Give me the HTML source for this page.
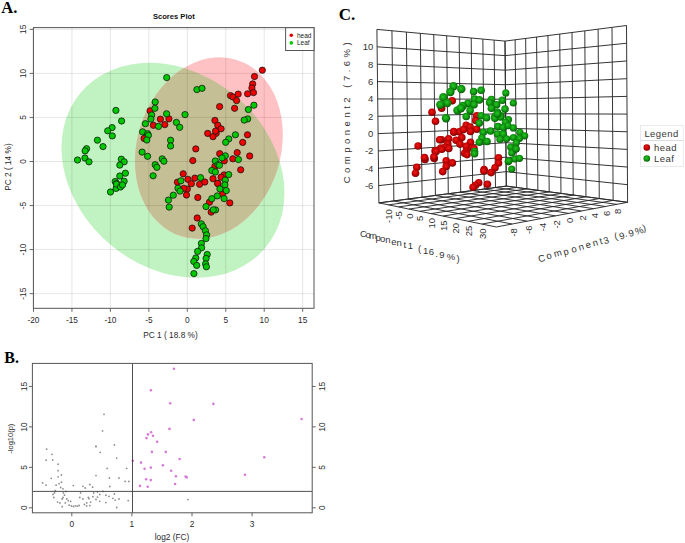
<!DOCTYPE html>
<html><head><meta charset="utf-8"><style>
html,body{margin:0;padding:0;background:#fff;}
svg{display:block;}
text{font-family:"Liberation Sans",sans-serif;}
.g{stroke:rgba(0,0,0,0.11);stroke-width:0.9;}
.box{fill:none;stroke:#555;stroke-width:1;}
.tk{stroke:#555;stroke-width:0.9;}
.bl{stroke:#3c3c3c;stroke-width:0.9;}
.tl{font-size:8.3px;fill:#2a2a2a;}
.tls{font-family:"Liberation Serif",serif;font-size:8.6px;fill:#333;}
.ttl{font-size:7.6px;font-weight:bold;fill:#111;}
.lg{font-size:6.5px;fill:#222;}
.pl{font-family:"Liberation Serif",serif;font-weight:bold;font-size:16px;fill:#000;}
.pr{fill:#ee0000;stroke:#111;stroke-width:0.75;}
.pg{fill:#00c800;stroke:#111;stroke-width:0.75;}
.c3{fill:none;stroke:#2a2a2a;stroke-width:0.95;}
.c3t{font-size:9.5px;fill:#333;}
.c3a{font-size:9.5px;fill:#333;}
.c3a2{font-size:9.5px;fill:#333;}
.c3l{font-size:9.5px;fill:#383838;letter-spacing:0.45px;}
</style></head><body>
<svg width="685" height="543" viewBox="0 0 685 543">
<defs>
<radialGradient id="rb" cx="0.45" cy="0.42" r="0.6"><stop offset="0" stop-color="#ee1a1a"/><stop offset="0.45" stop-color="#d00606"/><stop offset="0.8" stop-color="#a00000"/><stop offset="1" stop-color="#640000"/></radialGradient>
<radialGradient id="gb" cx="0.45" cy="0.42" r="0.6"><stop offset="0" stop-color="#26c426"/><stop offset="0.45" stop-color="#14a214"/><stop offset="0.8" stop-color="#087808"/><stop offset="1" stop-color="#034803"/></radialGradient>
</defs>
<clipPath id="gclip"><ellipse cx="172.95" cy="170.3" rx="120.6" ry="97.15" transform="rotate(40 172.95 170.3)"/></clipPath>
<ellipse cx="172.95" cy="170.3" rx="120.6" ry="97.15" transform="rotate(40 172.95 170.3)" fill="rgb(193,242,193)"/>
<ellipse cx="208.9" cy="148.0" rx="71.8" ry="92.4" transform="rotate(17.6 208.9 148.0)" fill="rgb(255,194,196)"/>
<g clip-path="url(#gclip)"><ellipse cx="208.9" cy="148.0" rx="71.8" ry="92.4" transform="rotate(17.6 208.9 148.0)" fill="rgb(197,191,149)"/></g>
<line x1="33.48" y1="27.6" x2="33.48" y2="308.3" class="g"/>
<line x1="71.94" y1="27.6" x2="71.94" y2="308.3" class="g"/>
<line x1="110.39" y1="27.6" x2="110.39" y2="308.3" class="g"/>
<line x1="148.85" y1="27.6" x2="148.85" y2="308.3" class="g"/>
<line x1="187.3" y1="27.6" x2="187.3" y2="308.3" class="g"/>
<line x1="225.75" y1="27.6" x2="225.75" y2="308.3" class="g"/>
<line x1="264.21" y1="27.6" x2="264.21" y2="308.3" class="g"/>
<line x1="302.67" y1="27.6" x2="302.67" y2="308.3" class="g"/>
<line x1="33.4" y1="293.65" x2="314.0" y2="293.65" class="g"/>
<line x1="33.4" y1="249.6" x2="314.0" y2="249.6" class="g"/>
<line x1="33.4" y1="205.55" x2="314.0" y2="205.55" class="g"/>
<line x1="33.4" y1="161.5" x2="314.0" y2="161.5" class="g"/>
<line x1="33.4" y1="117.45" x2="314.0" y2="117.45" class="g"/>
<line x1="33.4" y1="73.4" x2="314.0" y2="73.4" class="g"/>
<line x1="33.4" y1="29.35" x2="314.0" y2="29.35" class="g"/>
<circle cx="150.1" cy="110.8" r="3.15" class="pr"/>
<circle cx="153.4" cy="125.3" r="3.15" class="pr"/>
<circle cx="160.4" cy="119.2" r="3.15" class="pr"/>
<circle cx="168.9" cy="118.8" r="3.15" class="pr"/>
<circle cx="164.8" cy="124.6" r="3.15" class="pr"/>
<circle cx="219.6" cy="106.6" r="3.15" class="pr"/>
<circle cx="214.9" cy="120.4" r="3.15" class="pr"/>
<circle cx="217.8" cy="125.2" r="3.15" class="pr"/>
<circle cx="221.1" cy="128.8" r="3.15" class="pr"/>
<circle cx="230.5" cy="95.6" r="3.15" class="pr"/>
<circle cx="233.0" cy="97.0" r="3.15" class="pr"/>
<circle cx="238.2" cy="94.1" r="3.15" class="pr"/>
<circle cx="236.6" cy="100.6" r="3.15" class="pr"/>
<circle cx="234.6" cy="108.3" r="3.15" class="pr"/>
<circle cx="262.3" cy="70.2" r="3.15" class="pr"/>
<circle cx="254.5" cy="76.5" r="3.15" class="pr"/>
<circle cx="252.7" cy="83.9" r="3.15" class="pr"/>
<circle cx="251.9" cy="88.0" r="3.15" class="pr"/>
<circle cx="253.5" cy="92.6" r="3.15" class="pr"/>
<circle cx="247.6" cy="93.8" r="3.15" class="pr"/>
<circle cx="216.2" cy="133.3" r="3.15" class="pr"/>
<circle cx="247.5" cy="134.8" r="3.15" class="pr"/>
<circle cx="242.7" cy="142.4" r="3.15" class="pr"/>
<circle cx="237.2" cy="152.6" r="3.15" class="pr"/>
<circle cx="219.7" cy="153.7" r="3.15" class="pr"/>
<circle cx="249.7" cy="156.0" r="3.15" class="pr"/>
<circle cx="232.8" cy="158.8" r="3.15" class="pr"/>
<circle cx="240.7" cy="169.8" r="3.15" class="pr"/>
<circle cx="224.3" cy="160.8" r="3.15" class="pr"/>
<circle cx="224.1" cy="174.9" r="3.15" class="pr"/>
<circle cx="221.1" cy="177.2" r="3.15" class="pr"/>
<circle cx="217.9" cy="183.6" r="3.15" class="pr"/>
<circle cx="222.6" cy="194.1" r="3.15" class="pr"/>
<circle cx="229.8" cy="202.9" r="3.15" class="pr"/>
<circle cx="144.1" cy="138.4" r="3.15" class="pr"/>
<circle cx="195.8" cy="148.9" r="3.15" class="pr"/>
<circle cx="192.8" cy="160.6" r="3.15" class="pr"/>
<circle cx="207.7" cy="133.4" r="3.15" class="pr"/>
<circle cx="213.0" cy="136.7" r="3.15" class="pr"/>
<circle cx="215.5" cy="131.1" r="3.15" class="pr"/>
<circle cx="183.2" cy="173.8" r="3.15" class="pr"/>
<circle cx="187.9" cy="179.3" r="3.15" class="pr"/>
<circle cx="194.9" cy="178.1" r="3.15" class="pr"/>
<circle cx="177.4" cy="182.2" r="3.15" class="pr"/>
<circle cx="191.4" cy="183.7" r="3.15" class="pr"/>
<circle cx="199.6" cy="184.3" r="3.15" class="pr"/>
<circle cx="204.8" cy="182.0" r="3.15" class="pr"/>
<circle cx="213.0" cy="178.7" r="3.15" class="pr"/>
<circle cx="217.7" cy="183.4" r="3.15" class="pr"/>
<circle cx="187.3" cy="189.1" r="3.15" class="pr"/>
<circle cx="183.8" cy="188.3" r="3.15" class="pr"/>
<circle cx="186.5" cy="195.0" r="3.15" class="pr"/>
<circle cx="197.8" cy="197.5" r="3.15" class="pr"/>
<circle cx="209.5" cy="202.2" r="3.15" class="pr"/>
<circle cx="211.2" cy="212.1" r="3.15" class="pr"/>
<circle cx="197.2" cy="218.0" r="3.15" class="pr"/>
<circle cx="192.2" cy="228.1" r="3.15" class="pr"/>
<circle cx="214.9" cy="166.4" r="3.15" class="pr"/>
<circle cx="166.7" cy="77.6" r="3.15" class="pg"/>
<circle cx="196.9" cy="89.6" r="3.15" class="pg"/>
<circle cx="202.0" cy="88.3" r="3.15" class="pg"/>
<circle cx="155.2" cy="102.0" r="3.15" class="pg"/>
<circle cx="154.9" cy="108.3" r="3.15" class="pg"/>
<circle cx="151.7" cy="115.0" r="3.15" class="pg"/>
<circle cx="150.9" cy="119.1" r="3.15" class="pg"/>
<circle cx="145.4" cy="123.7" r="3.15" class="pg"/>
<circle cx="142.6" cy="131.8" r="3.15" class="pg"/>
<circle cx="147.6" cy="133.7" r="3.15" class="pg"/>
<circle cx="158.5" cy="126.4" r="3.15" class="pg"/>
<circle cx="166.6" cy="113.8" r="3.15" class="pg"/>
<circle cx="176.4" cy="122.4" r="3.15" class="pg"/>
<circle cx="179.7" cy="127.3" r="3.15" class="pg"/>
<circle cx="185.0" cy="114.6" r="3.15" class="pg"/>
<circle cx="115.9" cy="110.4" r="3.15" class="pg"/>
<circle cx="121.6" cy="121.0" r="3.15" class="pg"/>
<circle cx="112.1" cy="127.6" r="3.15" class="pg"/>
<circle cx="107.7" cy="130.8" r="3.15" class="pg"/>
<circle cx="112.3" cy="135.9" r="3.15" class="pg"/>
<circle cx="97.4" cy="140.2" r="3.15" class="pg"/>
<circle cx="103.0" cy="146.6" r="3.15" class="pg"/>
<circle cx="86.6" cy="148.7" r="3.15" class="pg"/>
<circle cx="85.1" cy="150.9" r="3.15" class="pg"/>
<circle cx="77.5" cy="160.0" r="3.15" class="pg"/>
<circle cx="84.9" cy="158.0" r="3.15" class="pg"/>
<circle cx="89.0" cy="161.8" r="3.15" class="pg"/>
<circle cx="121.3" cy="159.2" r="3.15" class="pg"/>
<circle cx="124.2" cy="161.8" r="3.15" class="pg"/>
<circle cx="119.8" cy="165.1" r="3.15" class="pg"/>
<circle cx="125.4" cy="173.2" r="3.15" class="pg"/>
<circle cx="119.8" cy="176.0" r="3.15" class="pg"/>
<circle cx="124.1" cy="181.2" r="3.15" class="pg"/>
<circle cx="115.2" cy="181.5" r="3.15" class="pg"/>
<circle cx="116.6" cy="183.4" r="3.15" class="pg"/>
<circle cx="110.5" cy="192.0" r="3.15" class="pg"/>
<circle cx="116.1" cy="188.4" r="3.15" class="pg"/>
<circle cx="116.4" cy="184.1" r="3.15" class="pg"/>
<circle cx="120.5" cy="187.0" r="3.15" class="pg"/>
<circle cx="122.5" cy="184.9" r="3.15" class="pg"/>
<circle cx="148.4" cy="135.3" r="3.15" class="pg"/>
<circle cx="146.8" cy="140.0" r="3.15" class="pg"/>
<circle cx="170.6" cy="140.2" r="3.15" class="pg"/>
<circle cx="170.6" cy="146.0" r="3.15" class="pg"/>
<circle cx="142.1" cy="152.1" r="3.15" class="pg"/>
<circle cx="147.6" cy="156.3" r="3.15" class="pg"/>
<circle cx="162.2" cy="158.9" r="3.15" class="pg"/>
<circle cx="163.9" cy="161.2" r="3.15" class="pg"/>
<circle cx="155.2" cy="164.7" r="3.15" class="pg"/>
<circle cx="156.9" cy="167.3" r="3.15" class="pg"/>
<circle cx="153.1" cy="175.8" r="3.15" class="pg"/>
<circle cx="253.9" cy="105.2" r="3.15" class="pg"/>
<circle cx="248.4" cy="109.5" r="3.15" class="pg"/>
<circle cx="247.7" cy="118.9" r="3.15" class="pg"/>
<circle cx="244.2" cy="120.1" r="3.15" class="pg"/>
<circle cx="235.4" cy="134.8" r="3.15" class="pg"/>
<circle cx="228.8" cy="138.9" r="3.15" class="pg"/>
<circle cx="225.7" cy="142.3" r="3.15" class="pg"/>
<circle cx="225.3" cy="155.8" r="3.15" class="pg"/>
<circle cx="238.4" cy="159.5" r="3.15" class="pg"/>
<circle cx="215.3" cy="161.0" r="3.15" class="pg"/>
<circle cx="218.0" cy="164.7" r="3.15" class="pg"/>
<circle cx="211.8" cy="170.5" r="3.15" class="pg"/>
<circle cx="215.3" cy="172.0" r="3.15" class="pg"/>
<circle cx="200.5" cy="177.6" r="3.15" class="pg"/>
<circle cx="180.9" cy="180.8" r="3.15" class="pg"/>
<circle cx="222.0" cy="157.9" r="3.15" class="pg"/>
<circle cx="219.4" cy="165.3" r="3.15" class="pg"/>
<circle cx="228.7" cy="174.6" r="3.15" class="pg"/>
<circle cx="225.3" cy="180.1" r="3.15" class="pg"/>
<circle cx="224.9" cy="184.8" r="3.15" class="pg"/>
<circle cx="219.9" cy="188.9" r="3.15" class="pg"/>
<circle cx="226.3" cy="190.6" r="3.15" class="pg"/>
<circle cx="217.3" cy="195.9" r="3.15" class="pg"/>
<circle cx="224.1" cy="198.6" r="3.15" class="pg"/>
<circle cx="215.6" cy="209.9" r="3.15" class="pg"/>
<circle cx="178.0" cy="188.2" r="3.15" class="pg"/>
<circle cx="180.0" cy="191.1" r="3.15" class="pg"/>
<circle cx="173.3" cy="195.2" r="3.15" class="pg"/>
<circle cx="168.4" cy="200.1" r="3.15" class="pg"/>
<circle cx="169.2" cy="207.1" r="3.15" class="pg"/>
<circle cx="211.8" cy="198.7" r="3.15" class="pg"/>
<circle cx="206.0" cy="206.6" r="3.15" class="pg"/>
<circle cx="213.3" cy="209.8" r="3.15" class="pg"/>
<circle cx="201.3" cy="223.8" r="3.15" class="pg"/>
<circle cx="203.1" cy="226.7" r="3.15" class="pg"/>
<circle cx="205.4" cy="230.8" r="3.15" class="pg"/>
<circle cx="206.6" cy="234.9" r="3.15" class="pg"/>
<circle cx="206.0" cy="238.6" r="3.15" class="pg"/>
<circle cx="201.4" cy="243.4" r="3.15" class="pg"/>
<circle cx="201.6" cy="247.8" r="3.15" class="pg"/>
<circle cx="197.6" cy="251.4" r="3.15" class="pg"/>
<circle cx="195.8" cy="258.0" r="3.15" class="pg"/>
<circle cx="193.8" cy="261.5" r="3.15" class="pg"/>
<circle cx="196.7" cy="265.4" r="3.15" class="pg"/>
<circle cx="193.9" cy="273.6" r="3.15" class="pg"/>
<circle cx="207.2" cy="254.5" r="3.15" class="pg"/>
<circle cx="206.1" cy="258.4" r="3.15" class="pg"/>
<circle cx="205.6" cy="263.9" r="3.15" class="pg"/>
<circle cx="206.4" cy="266.8" r="3.15" class="pg"/>
<rect x="33.4" y="27.6" width="280.6" height="280.7" class="box"/>
<line x1="33.48" y1="308.3" x2="33.48" y2="311.8" class="tk"/>
<text x="33.48" y="323.2" class="tl" text-anchor="middle">-20</text>
<line x1="71.94" y1="308.3" x2="71.94" y2="311.8" class="tk"/>
<text x="71.94" y="323.2" class="tl" text-anchor="middle">-15</text>
<line x1="110.39" y1="308.3" x2="110.39" y2="311.8" class="tk"/>
<text x="110.39" y="323.2" class="tl" text-anchor="middle">-10</text>
<line x1="148.85" y1="308.3" x2="148.85" y2="311.8" class="tk"/>
<text x="148.85" y="323.2" class="tl" text-anchor="middle">-5</text>
<line x1="187.3" y1="308.3" x2="187.3" y2="311.8" class="tk"/>
<text x="187.3" y="323.2" class="tl" text-anchor="middle">0</text>
<line x1="225.75" y1="308.3" x2="225.75" y2="311.8" class="tk"/>
<text x="225.75" y="323.2" class="tl" text-anchor="middle">5</text>
<line x1="264.21" y1="308.3" x2="264.21" y2="311.8" class="tk"/>
<text x="264.21" y="323.2" class="tl" text-anchor="middle">10</text>
<line x1="302.67" y1="308.3" x2="302.67" y2="311.8" class="tk"/>
<text x="302.67" y="323.2" class="tl" text-anchor="middle">15</text>
<line x1="29.599999999999998" y1="293.65" x2="33.4" y2="293.65" class="tk"/>
<text transform="translate(26.1 293.65) rotate(-90)" class="tl" text-anchor="middle">-15</text>
<line x1="29.599999999999998" y1="249.6" x2="33.4" y2="249.6" class="tk"/>
<text transform="translate(26.1 249.6) rotate(-90)" class="tl" text-anchor="middle">-10</text>
<line x1="29.599999999999998" y1="205.55" x2="33.4" y2="205.55" class="tk"/>
<text transform="translate(26.1 205.55) rotate(-90)" class="tl" text-anchor="middle">-5</text>
<line x1="29.599999999999998" y1="161.5" x2="33.4" y2="161.5" class="tk"/>
<text transform="translate(26.1 161.5) rotate(-90)" class="tl" text-anchor="middle">0</text>
<line x1="29.599999999999998" y1="117.45" x2="33.4" y2="117.45" class="tk"/>
<text transform="translate(26.1 117.45) rotate(-90)" class="tl" text-anchor="middle">5</text>
<line x1="29.599999999999998" y1="73.4" x2="33.4" y2="73.4" class="tk"/>
<text transform="translate(26.1 73.4) rotate(-90)" class="tl" text-anchor="middle">10</text>
<line x1="29.599999999999998" y1="29.35" x2="33.4" y2="29.35" class="tk"/>
<text transform="translate(26.1 29.35) rotate(-90)" class="tl" text-anchor="middle">15</text>
<text x="170.5" y="338" class="tl" text-anchor="middle">PC 1 ( 18.8 %)</text>
<text transform="translate(11 167.1) rotate(-90)" class="tl" text-anchor="middle">PC 2 ( 14 %)</text>
<text x="173.8" y="19.3" class="ttl" text-anchor="middle">Scores Plot</text>
<rect x="285.6" y="27.7" width="28.4" height="22.8" class="box" style="fill:#fff"/>
<circle cx="291.3" cy="35.3" r="1.8" fill="#e00000"/>
<circle cx="291.3" cy="42.9" r="1.8" fill="#00c800"/>
<text x="297" y="37.6" class="lg">head</text>
<text x="297" y="45.2" class="lg">Leaf</text>
<text x="1.3" y="12.6" class="pl" style="font-size:16.6px">A.</text>
<circle cx="46.6" cy="449.2" r="0.9" fill="#8e8e8e"/>
<circle cx="51.9" cy="454.3" r="0.9" fill="#8e8e8e"/>
<circle cx="46.1" cy="460.2" r="0.9" fill="#8e8e8e"/>
<circle cx="52.7" cy="459.9" r="0.9" fill="#8e8e8e"/>
<circle cx="58.1" cy="464.2" r="0.9" fill="#8e8e8e"/>
<circle cx="58.1" cy="470.7" r="0.9" fill="#8e8e8e"/>
<circle cx="58.1" cy="476.8" r="0.9" fill="#8e8e8e"/>
<circle cx="61.4" cy="475" r="0.9" fill="#8e8e8e"/>
<circle cx="51.2" cy="478.3" r="0.9" fill="#8e8e8e"/>
<circle cx="42.6" cy="482.9" r="0.9" fill="#8e8e8e"/>
<circle cx="46.1" cy="485.2" r="0.9" fill="#8e8e8e"/>
<circle cx="56.1" cy="485.2" r="0.9" fill="#8e8e8e"/>
<circle cx="59.1" cy="483.7" r="0.9" fill="#8e8e8e"/>
<circle cx="61.4" cy="482.2" r="0.9" fill="#8e8e8e"/>
<circle cx="60.7" cy="487.5" r="0.9" fill="#8e8e8e"/>
<circle cx="63" cy="488.8" r="0.9" fill="#8e8e8e"/>
<circle cx="66" cy="491.4" r="0.9" fill="#8e8e8e"/>
<circle cx="55.3" cy="490.6" r="0.9" fill="#8e8e8e"/>
<circle cx="54.5" cy="492.9" r="0.9" fill="#8e8e8e"/>
<circle cx="53" cy="494.4" r="0.9" fill="#8e8e8e"/>
<circle cx="53.8" cy="497.5" r="0.9" fill="#8e8e8e"/>
<circle cx="63.4" cy="492.9" r="0.9" fill="#8e8e8e"/>
<circle cx="64.5" cy="495.2" r="0.9" fill="#8e8e8e"/>
<circle cx="63" cy="497.5" r="0.9" fill="#8e8e8e"/>
<circle cx="62.2" cy="499" r="0.9" fill="#8e8e8e"/>
<circle cx="66.8" cy="499" r="0.9" fill="#8e8e8e"/>
<circle cx="68.3" cy="500.6" r="0.9" fill="#8e8e8e"/>
<circle cx="70.6" cy="501.4" r="0.9" fill="#8e8e8e"/>
<circle cx="65.3" cy="502.9" r="0.9" fill="#8e8e8e"/>
<circle cx="57.6" cy="502.1" r="0.9" fill="#8e8e8e"/>
<circle cx="59.9" cy="502.9" r="0.9" fill="#8e8e8e"/>
<circle cx="62.2" cy="506.7" r="0.9" fill="#8e8e8e"/>
<circle cx="69.1" cy="505.2" r="0.9" fill="#8e8e8e"/>
<circle cx="71.5" cy="506.0" r="0.9" fill="#8e8e8e"/>
<circle cx="73.5" cy="506.5" r="0.9" fill="#8e8e8e"/>
<circle cx="75.5" cy="505.8" r="0.9" fill="#8e8e8e"/>
<circle cx="77.3" cy="506.2" r="0.9" fill="#8e8e8e"/>
<circle cx="79.1" cy="505.5" r="0.9" fill="#8e8e8e"/>
<circle cx="73.3" cy="485.6" r="0.9" fill="#8e8e8e"/>
<circle cx="82.9" cy="486.3" r="0.9" fill="#8e8e8e"/>
<circle cx="85.2" cy="488" r="0.9" fill="#8e8e8e"/>
<circle cx="89.8" cy="484.5" r="0.9" fill="#8e8e8e"/>
<circle cx="92.6" cy="487.2" r="0.9" fill="#8e8e8e"/>
<circle cx="96" cy="446.4" r="0.9" fill="#8e8e8e"/>
<circle cx="100.2" cy="452.3" r="0.9" fill="#8e8e8e"/>
<circle cx="114.4" cy="444.9" r="0.9" fill="#8e8e8e"/>
<circle cx="116.7" cy="458.1" r="0.9" fill="#8e8e8e"/>
<circle cx="107.1" cy="468.4" r="0.9" fill="#8e8e8e"/>
<circle cx="109.4" cy="478" r="0.9" fill="#8e8e8e"/>
<circle cx="119" cy="478" r="0.9" fill="#8e8e8e"/>
<circle cx="96" cy="475.6" r="0.9" fill="#8e8e8e"/>
<circle cx="109.8" cy="486.5" r="0.9" fill="#8e8e8e"/>
<circle cx="125.1" cy="481.4" r="0.9" fill="#8e8e8e"/>
<circle cx="128.9" cy="481.4" r="0.9" fill="#8e8e8e"/>
<circle cx="126.6" cy="468.4" r="0.9" fill="#8e8e8e"/>
<circle cx="80.6" cy="492.9" r="0.9" fill="#8e8e8e"/>
<circle cx="79.8" cy="497.5" r="0.9" fill="#8e8e8e"/>
<circle cx="82.9" cy="499" r="0.9" fill="#8e8e8e"/>
<circle cx="88.3" cy="497.5" r="0.9" fill="#8e8e8e"/>
<circle cx="89" cy="498.7" r="0.9" fill="#8e8e8e"/>
<circle cx="93.7" cy="492.9" r="0.9" fill="#8e8e8e"/>
<circle cx="97.5" cy="492.1" r="0.9" fill="#8e8e8e"/>
<circle cx="102.9" cy="491.4" r="0.9" fill="#8e8e8e"/>
<circle cx="97.5" cy="497.1" r="0.9" fill="#8e8e8e"/>
<circle cx="92.9" cy="496.7" r="0.9" fill="#8e8e8e"/>
<circle cx="99.8" cy="494.4" r="0.9" fill="#8e8e8e"/>
<circle cx="105.9" cy="495.2" r="0.9" fill="#8e8e8e"/>
<circle cx="109" cy="496.4" r="0.9" fill="#8e8e8e"/>
<circle cx="114.4" cy="494" r="0.9" fill="#8e8e8e"/>
<circle cx="112.8" cy="498.3" r="0.9" fill="#8e8e8e"/>
<circle cx="115.1" cy="500.1" r="0.9" fill="#8e8e8e"/>
<circle cx="119" cy="499" r="0.9" fill="#8e8e8e"/>
<circle cx="128.2" cy="500.6" r="0.9" fill="#8e8e8e"/>
<circle cx="99.8" cy="501.3" r="0.9" fill="#8e8e8e"/>
<circle cx="105.9" cy="502.6" r="0.9" fill="#8e8e8e"/>
<circle cx="96" cy="499.5" r="0.9" fill="#8e8e8e"/>
<circle cx="86.7" cy="502.9" r="0.9" fill="#8e8e8e"/>
<circle cx="90.6" cy="502.1" r="0.9" fill="#8e8e8e"/>
<circle cx="84.4" cy="504.4" r="0.9" fill="#8e8e8e"/>
<circle cx="86.7" cy="505.9" r="0.9" fill="#8e8e8e"/>
<circle cx="89.8" cy="505.6" r="0.9" fill="#8e8e8e"/>
<circle cx="116.7" cy="507.5" r="0.9" fill="#8e8e8e"/>
<circle cx="104" cy="414.3" r="0.9" fill="#8e8e8e"/>
<circle cx="102.5" cy="430.9" r="0.9" fill="#8e8e8e"/>
<circle cx="95.9" cy="446.4" r="0.9" fill="#8e8e8e"/>
<circle cx="187.9" cy="499.6" r="0.9" fill="#8e8e8e"/>
<circle cx="173.9" cy="368.8" r="1.3" fill="#d77ad7"/>
<circle cx="150.9" cy="390.2" r="1.3" fill="#d77ad7"/>
<circle cx="170.2" cy="403.2" r="1.3" fill="#d77ad7"/>
<circle cx="213.4" cy="403.9" r="1.3" fill="#d77ad7"/>
<circle cx="193.8" cy="419.9" r="1.3" fill="#d77ad7"/>
<circle cx="169.5" cy="428.9" r="1.3" fill="#d77ad7"/>
<circle cx="151.1" cy="432.2" r="1.3" fill="#d77ad7"/>
<circle cx="148" cy="434.4" r="1.3" fill="#d77ad7"/>
<circle cx="153" cy="435.8" r="1.3" fill="#d77ad7"/>
<circle cx="146.5" cy="438.1" r="1.3" fill="#d77ad7"/>
<circle cx="157.1" cy="441.7" r="1.3" fill="#d77ad7"/>
<circle cx="151.9" cy="451.9" r="1.3" fill="#d77ad7"/>
<circle cx="165.8" cy="451.9" r="1.3" fill="#d77ad7"/>
<circle cx="179.6" cy="459" r="1.3" fill="#d77ad7"/>
<circle cx="132.8" cy="460.7" r="1.3" fill="#d77ad7"/>
<circle cx="141" cy="462.6" r="1.3" fill="#d77ad7"/>
<circle cx="144.6" cy="468.7" r="1.3" fill="#d77ad7"/>
<circle cx="150.8" cy="467.6" r="1.3" fill="#d77ad7"/>
<circle cx="162.9" cy="465.2" r="1.3" fill="#d77ad7"/>
<circle cx="171.2" cy="470.7" r="1.3" fill="#d77ad7"/>
<circle cx="175.9" cy="476.2" r="1.3" fill="#d77ad7"/>
<circle cx="185.6" cy="476.5" r="1.3" fill="#d77ad7"/>
<circle cx="186.7" cy="477.4" r="1.3" fill="#d77ad7"/>
<circle cx="146.1" cy="479.3" r="1.3" fill="#d77ad7"/>
<circle cx="150.8" cy="480.1" r="1.3" fill="#d77ad7"/>
<circle cx="175.1" cy="484" r="1.3" fill="#d77ad7"/>
<circle cx="139.9" cy="485.9" r="1.3" fill="#d77ad7"/>
<circle cx="147.7" cy="486.7" r="1.3" fill="#d77ad7"/>
<circle cx="301.6" cy="419" r="1.3" fill="#d77ad7"/>
<circle cx="264.3" cy="457.3" r="1.3" fill="#d77ad7"/>
<circle cx="245" cy="474.7" r="1.3" fill="#d77ad7"/>
<line x1="132.5" y1="363.4" x2="132.5" y2="512.8" class="bl"/>
<line x1="32.4" y1="491.4" x2="312.2" y2="491.4" class="bl"/>
<rect x="32.4" y="363.4" width="279.8" height="149.4" class="box"/>
<line x1="71.8" y1="512.8" x2="71.8" y2="516.3" class="tk"/>
<text x="71.8" y="526.6" class="tl" text-anchor="middle">0</text>
<line x1="131.9" y1="512.8" x2="131.9" y2="516.3" class="tk"/>
<text x="131.9" y="526.6" class="tl" text-anchor="middle">1</text>
<line x1="192" y1="512.8" x2="192" y2="516.3" class="tk"/>
<text x="192" y="526.6" class="tl" text-anchor="middle">2</text>
<line x1="252.1" y1="512.8" x2="252.1" y2="516.3" class="tk"/>
<text x="252.1" y="526.6" class="tl" text-anchor="middle">3</text>
<line x1="28.9" y1="507.8" x2="32.4" y2="507.8" class="tk"/>
<line x1="312.2" y1="507.8" x2="315.7" y2="507.8" class="tk"/>
<text transform="translate(27.0 507.8) rotate(-90)" class="tl" text-anchor="middle">0</text>
<text transform="translate(325.4 507.8) rotate(-90)" class="tl" text-anchor="middle">0</text>
<line x1="28.9" y1="467.35" x2="32.4" y2="467.35" class="tk"/>
<line x1="312.2" y1="467.35" x2="315.7" y2="467.35" class="tk"/>
<text transform="translate(27.0 467.35) rotate(-90)" class="tl" text-anchor="middle">5</text>
<text transform="translate(325.4 467.35) rotate(-90)" class="tl" text-anchor="middle">5</text>
<line x1="28.9" y1="426.9" x2="32.4" y2="426.9" class="tk"/>
<line x1="312.2" y1="426.9" x2="315.7" y2="426.9" class="tk"/>
<text transform="translate(27.0 426.9) rotate(-90)" class="tl" text-anchor="middle">10</text>
<text transform="translate(325.4 426.9) rotate(-90)" class="tl" text-anchor="middle">10</text>
<line x1="28.9" y1="386.45" x2="32.4" y2="386.45" class="tk"/>
<line x1="312.2" y1="386.45" x2="315.7" y2="386.45" class="tk"/>
<text transform="translate(27.0 386.45) rotate(-90)" class="tl" text-anchor="middle">15</text>
<text transform="translate(325.4 386.45) rotate(-90)" class="tl" text-anchor="middle">15</text>
<text x="172" y="540" class="tl" text-anchor="middle">log2 (FC)</text>
<text transform="translate(12.6 438.7) rotate(-90)" class="tl" style="font-size:7.5px" text-anchor="middle">-log10(p)</text>
<text x="4.3" y="362.7" class="pl">B.</text>
<path d="M506.3 186.1L505 41.1M506.3 186.1L378.9 202.9M495.47 187.53L494.12 40.11M506.17 171.64L378.7 185.6M484.28 189L482.87 39.08M506.04 157.17L378.5 168.3M472.7 190.53L471.23 38.02M505.91 142.69L378.3 150.98M460.71 192.11L459.18 36.91M505.78 128.2L378.1 133.64M448.29 193.75L446.69 35.77M505.65 113.71L377.9 116.3M435.42 195.45L433.75 34.59M505.52 99.2L377.7 98.94M422.08 197.21L420.33 33.37M505.39 84.69L377.5 81.58M408.23 199.03L406.4 32.09M505.26 70.17L377.3 64.2M393.85 200.93L391.94 30.77M505.13 55.64L377.1 46.8M378.9 202.9L376.9 29.4M505 41.1L376.9 29.4M506.3 186.1L505 41.1M506.3 186.1L627.6 202.3M516.43 187.45L515.14 39.8M506.17 171.64L627.49 184.68M526.94 188.86L525.67 38.45M506.04 157.18L627.38 167.05M537.86 190.31L536.59 37.04M505.91 142.7L627.27 149.41M549.19 191.83L547.94 35.59M505.78 128.21L627.16 131.75M560.97 193.4L559.74 34.07M505.65 113.72L627.05 114.08M573.22 195.04L572.01 32.5M505.52 99.21L626.94 96.39M585.98 196.74L584.79 30.86M505.39 84.7L626.83 78.69M599.27 198.52L598.11 29.15M505.26 70.18L626.72 60.97M613.13 200.37L612 27.36M505.13 55.64L626.61 43.24M627.6 202.3L626.5 25.5M505 41.1L626.5 25.5M506.3 186.1L378.9 202.9M506.3 186.1L627.6 202.3M516.56 187.47L388.49 204.87M495.37 187.54L616.72 204.35M527.18 188.89L398.48 206.92M484.08 189.03L605.41 206.47M538.17 190.36L408.89 209.06M472.43 190.57L593.66 208.68M549.56 191.88L419.76 211.29M460.4 192.15L581.43 210.98M561.37 193.46L431.1 213.62M447.96 193.79L568.71 213.38M573.63 195.09L442.96 216.05M435.09 195.49L555.44 215.87M586.35 196.79L455.37 218.6M421.78 197.25L541.61 218.48M599.56 198.56L468.36 221.27M407.99 199.06L527.17 221.19M613.3 200.39L481.99 224.06M393.71 200.95L512.08 224.03M627.6 202.3L496.3 227M378.9 202.9L496.3 227" class="c3"/>
<circle cx="452.2" cy="100.8" r="3.8" fill="url(#rb)"/>
<circle cx="441.6" cy="108.2" r="3.8" fill="url(#rb)"/>
<circle cx="432.0" cy="112.2" r="3.8" fill="url(#rb)"/>
<circle cx="476.7" cy="115.7" r="3.8" fill="url(#rb)"/>
<circle cx="435.5" cy="121.3" r="3.8" fill="url(#rb)"/>
<circle cx="475.8" cy="120.4" r="3.8" fill="url(#rb)"/>
<circle cx="466.2" cy="125.3" r="3.8" fill="url(#rb)"/>
<circle cx="470.1" cy="127.0" r="3.8" fill="url(#rb)"/>
<circle cx="476.7" cy="129.2" r="3.8" fill="url(#rb)"/>
<circle cx="470.5" cy="131.4" r="3.8" fill="url(#rb)"/>
<circle cx="453.9" cy="132.3" r="3.8" fill="url(#rb)"/>
<circle cx="459.2" cy="131.8" r="3.8" fill="url(#rb)"/>
<circle cx="463.5" cy="129.6" r="3.8" fill="url(#rb)"/>
<circle cx="461.8" cy="137.5" r="3.8" fill="url(#rb)"/>
<circle cx="441.6" cy="139.7" r="3.8" fill="url(#rb)"/>
<circle cx="448.6" cy="138.8" r="3.8" fill="url(#rb)"/>
<circle cx="456.1" cy="140.2" r="3.8" fill="url(#rb)"/>
<circle cx="447.8" cy="144.1" r="3.8" fill="url(#rb)"/>
<circle cx="460.0" cy="144.1" r="3.8" fill="url(#rb)"/>
<circle cx="470.5" cy="142.3" r="3.8" fill="url(#rb)"/>
<circle cx="466.2" cy="146.3" r="3.8" fill="url(#rb)"/>
<circle cx="472.3" cy="148.0" r="3.8" fill="url(#rb)"/>
<circle cx="440.8" cy="148.0" r="3.8" fill="url(#rb)"/>
<circle cx="435.1" cy="150.7" r="3.8" fill="url(#rb)"/>
<circle cx="445.1" cy="147.2" r="3.8" fill="url(#rb)"/>
<circle cx="466.2" cy="151.5" r="3.8" fill="url(#rb)"/>
<circle cx="418.1" cy="146.0" r="3.8" fill="url(#rb)"/>
<circle cx="436.1" cy="151.5" r="3.8" fill="url(#rb)"/>
<circle cx="441.8" cy="149.3" r="3.8" fill="url(#rb)"/>
<circle cx="448.8" cy="148.4" r="3.8" fill="url(#rb)"/>
<circle cx="425.0" cy="159.4" r="3.8" fill="url(#rb)"/>
<circle cx="434.2" cy="158.5" r="3.8" fill="url(#rb)"/>
<circle cx="416.8" cy="167.3" r="3.8" fill="url(#rb)"/>
<circle cx="415.5" cy="173.2" r="3.8" fill="url(#rb)"/>
<circle cx="446.2" cy="160.7" r="3.8" fill="url(#rb)"/>
<circle cx="452.3" cy="162.9" r="3.8" fill="url(#rb)"/>
<circle cx="446.2" cy="166.4" r="3.8" fill="url(#rb)"/>
<circle cx="442.7" cy="171.6" r="3.8" fill="url(#rb)"/>
<circle cx="464.6" cy="153.3" r="3.8" fill="url(#rb)"/>
<circle cx="453.7" cy="131.6" r="3.8" fill="url(#rb)"/>
<circle cx="424.5" cy="157.5" r="3.8" fill="url(#rb)"/>
<circle cx="433.9" cy="156.9" r="3.8" fill="url(#rb)"/>
<circle cx="439.7" cy="139.7" r="3.8" fill="url(#rb)"/>
<circle cx="474.0" cy="148.5" r="3.8" fill="url(#rb)"/>
<circle cx="467.0" cy="154.6" r="3.8" fill="url(#rb)"/>
<circle cx="498.5" cy="157.7" r="3.8" fill="url(#rb)"/>
<circle cx="498.5" cy="163.0" r="3.8" fill="url(#rb)"/>
<circle cx="495.0" cy="167.8" r="3.8" fill="url(#rb)"/>
<circle cx="484.1" cy="169.5" r="3.8" fill="url(#rb)"/>
<circle cx="491.1" cy="172.6" r="3.8" fill="url(#rb)"/>
<circle cx="478.7" cy="182.8" r="3.8" fill="url(#rb)"/>
<circle cx="475.5" cy="185.2" r="3.8" fill="url(#rb)"/>
<circle cx="473.1" cy="187.2" r="3.8" fill="url(#rb)"/>
<circle cx="487.4" cy="184.3" r="3.8" fill="url(#rb)"/>
<circle cx="483.9" cy="170.9" r="3.8" fill="url(#rb)"/>
<circle cx="453.5" cy="86.3" r="4.2" fill="url(#gb)"/>
<circle cx="461.3" cy="89.0" r="4.2" fill="url(#gb)"/>
<circle cx="450.4" cy="92.0" r="4.2" fill="url(#gb)"/>
<circle cx="443.4" cy="97.3" r="4.2" fill="url(#gb)"/>
<circle cx="447.3" cy="103.0" r="4.2" fill="url(#gb)"/>
<circle cx="440.3" cy="104.7" r="4.2" fill="url(#gb)"/>
<circle cx="473.6" cy="91.6" r="3.8" fill="url(#gb)"/>
<circle cx="481.1" cy="90.3" r="3.8" fill="url(#gb)"/>
<circle cx="474.5" cy="99.0" r="3.8" fill="url(#gb)"/>
<circle cx="479.3" cy="99.9" r="3.8" fill="url(#gb)"/>
<circle cx="467.9" cy="103.4" r="3.8" fill="url(#gb)"/>
<circle cx="462.7" cy="106.0" r="4.2" fill="url(#gb)"/>
<circle cx="474.0" cy="104.7" r="3.8" fill="url(#gb)"/>
<circle cx="457.4" cy="110.4" r="4.2" fill="url(#gb)"/>
<circle cx="460.9" cy="108.2" r="4.2" fill="url(#gb)"/>
<circle cx="470.1" cy="110.4" r="3.8" fill="url(#gb)"/>
<circle cx="446.0" cy="118.2" r="4.2" fill="url(#gb)"/>
<circle cx="466.2" cy="116.5" r="3.8" fill="url(#gb)"/>
<circle cx="481.1" cy="115.7" r="3.8" fill="url(#gb)"/>
<circle cx="505.8" cy="92.9" r="3.6" fill="url(#gb)"/>
<circle cx="502.3" cy="100.3" r="3.8" fill="url(#gb)"/>
<circle cx="513.3" cy="103.0" r="3.6" fill="url(#gb)"/>
<circle cx="491.4" cy="99.5" r="3.8" fill="url(#gb)"/>
<circle cx="489.6" cy="102.5" r="3.8" fill="url(#gb)"/>
<circle cx="496.6" cy="104.7" r="3.8" fill="url(#gb)"/>
<circle cx="491.4" cy="108.2" r="3.8" fill="url(#gb)"/>
<circle cx="505.0" cy="109.1" r="3.8" fill="url(#gb)"/>
<circle cx="497.5" cy="112.2" r="3.8" fill="url(#gb)"/>
<circle cx="494.9" cy="116.5" r="3.8" fill="url(#gb)"/>
<circle cx="501.0" cy="115.7" r="3.8" fill="url(#gb)"/>
<circle cx="479.3" cy="123.1" r="3.8" fill="url(#gb)"/>
<circle cx="483.2" cy="132.3" r="3.8" fill="url(#gb)"/>
<circle cx="481.9" cy="138.0" r="3.8" fill="url(#gb)"/>
<circle cx="479.3" cy="142.3" r="3.8" fill="url(#gb)"/>
<circle cx="474.5" cy="151.5" r="3.8" fill="url(#gb)"/>
<circle cx="486.6" cy="117.8" r="3.8" fill="url(#gb)"/>
<circle cx="494.9" cy="118.3" r="3.8" fill="url(#gb)"/>
<circle cx="500.6" cy="117.0" r="3.8" fill="url(#gb)"/>
<circle cx="497.5" cy="113.9" r="3.8" fill="url(#gb)"/>
<circle cx="508.5" cy="119.6" r="3.6" fill="url(#gb)"/>
<circle cx="505.4" cy="122.2" r="3.6" fill="url(#gb)"/>
<circle cx="498.0" cy="126.6" r="3.8" fill="url(#gb)"/>
<circle cx="503.2" cy="127.5" r="3.8" fill="url(#gb)"/>
<circle cx="508.0" cy="125.7" r="3.6" fill="url(#gb)"/>
<circle cx="513.3" cy="127.9" r="3.6" fill="url(#gb)"/>
<circle cx="490.5" cy="131.0" r="3.8" fill="url(#gb)"/>
<circle cx="497.5" cy="134.0" r="3.8" fill="url(#gb)"/>
<circle cx="503.2" cy="134.0" r="3.8" fill="url(#gb)"/>
<circle cx="519.9" cy="132.3" r="3.6" fill="url(#gb)"/>
<circle cx="524.7" cy="135.8" r="3.6" fill="url(#gb)"/>
<circle cx="487.0" cy="141.5" r="3.8" fill="url(#gb)"/>
<circle cx="500.1" cy="139.3" r="3.8" fill="url(#gb)"/>
<circle cx="506.7" cy="138.8" r="3.6" fill="url(#gb)"/>
<circle cx="513.3" cy="137.5" r="3.6" fill="url(#gb)"/>
<circle cx="519.4" cy="138.4" r="3.6" fill="url(#gb)"/>
<circle cx="516.3" cy="142.8" r="3.6" fill="url(#gb)"/>
<circle cx="510.7" cy="147.2" r="3.6" fill="url(#gb)"/>
<circle cx="515.9" cy="148.9" r="3.6" fill="url(#gb)"/>
<circle cx="512.4" cy="151.5" r="3.6" fill="url(#gb)"/>
<circle cx="474.5" cy="153.8" r="3.8" fill="url(#gb)"/>
<circle cx="511.7" cy="152.9" r="3.6" fill="url(#gb)"/>
<circle cx="516.1" cy="148.9" r="3.6" fill="url(#gb)"/>
<circle cx="508.2" cy="161.6" r="3.6" fill="url(#gb)"/>
<circle cx="514.7" cy="159.0" r="3.6" fill="url(#gb)"/>
<circle cx="511.7" cy="169.1" r="3.6" fill="url(#gb)"/>
<circle cx="519.5" cy="158.3" r="3.6" fill="url(#gb)"/>
<circle cx="508.9" cy="160.9" r="3.6" fill="url(#gb)"/>
<text x="373.4" y="189.1" class="c3t" text-anchor="end">-6</text>
<text x="373.4" y="171.8" class="c3t" text-anchor="end">-4</text>
<text x="373.4" y="154.48" class="c3t" text-anchor="end">-2</text>
<text x="373.4" y="137.14" class="c3t" text-anchor="end">0</text>
<text x="373.4" y="119.8" class="c3t" text-anchor="end">2</text>
<text x="373.4" y="102.44" class="c3t" text-anchor="end">4</text>
<text x="373.4" y="85.08" class="c3t" text-anchor="end">6</text>
<text x="373.4" y="67.7" class="c3t" text-anchor="end">8</text>
<text x="373.4" y="50.3" class="c3t" text-anchor="end">10</text>
<text transform="translate(350.4 112.8) rotate(-90)" class="c3a" text-anchor="middle" textLength="141" lengthAdjust="spacing">Component2 (7.6%)</text>
<text transform="translate(392.19 209.27) rotate(-90)" class="c3t" text-anchor="end">-10</text>
<text transform="translate(402.18 211.32) rotate(-90)" class="c3t" text-anchor="end">-5</text>
<text transform="translate(412.59 213.46) rotate(-90)" class="c3t" text-anchor="end">0</text>
<text transform="translate(423.46 215.69) rotate(-90)" class="c3t" text-anchor="end">5</text>
<text transform="translate(434.8 218.02) rotate(-90)" class="c3t" text-anchor="end">10</text>
<text transform="translate(446.66 220.45) rotate(-90)" class="c3t" text-anchor="end">15</text>
<text transform="translate(459.07 223) rotate(-90)" class="c3t" text-anchor="end">20</text>
<text transform="translate(472.06 225.67) rotate(-90)" class="c3t" text-anchor="end">25</text>
<text transform="translate(485.69 228.46) rotate(-90)" class="c3t" text-anchor="end">30</text>
<text transform="translate(516.58 228.33) rotate(-90)" class="c3t" text-anchor="end">-8</text>
<text transform="translate(531.67 225.49) rotate(-90)" class="c3t" text-anchor="end">-6</text>
<text transform="translate(546.11 222.78) rotate(-90)" class="c3t" text-anchor="end">-4</text>
<text transform="translate(559.94 220.17) rotate(-90)" class="c3t" text-anchor="end">-2</text>
<text transform="translate(573.21 217.68) rotate(-90)" class="c3t" text-anchor="end">0</text>
<text transform="translate(585.93 215.28) rotate(-90)" class="c3t" text-anchor="end">2</text>
<text transform="translate(598.16 212.98) rotate(-90)" class="c3t" text-anchor="end">4</text>
<text transform="translate(609.91 210.77) rotate(-90)" class="c3t" text-anchor="end">6</text>
<text transform="translate(621.22 208.65) rotate(-90)" class="c3t" text-anchor="end">8</text>
<text transform="translate(363.5 233.27) rotate(0)" y="3.4" class="c3a2" text-anchor="middle">C</text><text transform="translate(368.1 235.45) rotate(0)" y="2.47" class="c3a2" text-anchor="middle">o</text><text transform="translate(373 236.79) rotate(0)" y="2.47" class="c3a2" text-anchor="middle">m</text><text transform="translate(378.2 238.2) rotate(0)" y="2.47" class="c3a2" text-anchor="middle">p</text><text transform="translate(382.6 239.4) rotate(0)" y="2.47" class="c3a2" text-anchor="middle">o</text><text transform="translate(387.8 240.81) rotate(0)" y="2.47" class="c3a2" text-anchor="middle">n</text><text transform="translate(394 242.5) rotate(0)" y="2.47" class="c3a2" text-anchor="middle">e</text><text transform="translate(399.2 243.91) rotate(0)" y="2.47" class="c3a2" text-anchor="middle">n</text><text transform="translate(404.9 245.08) rotate(0)" y="2.85" class="c3a2" text-anchor="middle">t</text><text transform="translate(410.4 246.02) rotate(0)" y="3.4" class="c3a2" text-anchor="middle">1</text><text transform="translate(419.5 249.43) rotate(0)" y="2.47" class="c3a2" text-anchor="middle">(</text><text transform="translate(425.6 250.16) rotate(0)" y="3.4" class="c3a2" text-anchor="middle">1</text><text transform="translate(431.3 251.71) rotate(0)" y="3.4" class="c3a2" text-anchor="middle">6</text><text transform="translate(436.5 256.05) rotate(0)" y="0.48" class="c3a2" text-anchor="middle">.</text><text transform="translate(441.8 254.56) rotate(0)" y="3.4" class="c3a2" text-anchor="middle">9</text><text transform="translate(451 257.07) rotate(0)" y="3.4" class="c3a2" text-anchor="middle">%</text><text transform="translate(458 259.9) rotate(0)" y="2.47" class="c3a2" text-anchor="middle">)</text>
<text transform="translate(541.6 258.2) rotate(-16)" y="3.4" class="c3a2" text-anchor="middle">C</text><text transform="translate(549 256.5) rotate(-16)" y="2.47" class="c3a2" text-anchor="middle">o</text><text transform="translate(557.8 253.8) rotate(-16)" y="2.47" class="c3a2" text-anchor="middle">m</text><text transform="translate(566.1 252.5) rotate(-16)" y="2.47" class="c3a2" text-anchor="middle">p</text><text transform="translate(574 249.9) rotate(-16)" y="2.47" class="c3a2" text-anchor="middle">o</text><text transform="translate(581.4 247.7) rotate(-16)" y="2.47" class="c3a2" text-anchor="middle">n</text><text transform="translate(588.4 245.5) rotate(-16)" y="2.47" class="c3a2" text-anchor="middle">e</text><text transform="translate(595.3 243.4) rotate(-16)" y="2.47" class="c3a2" text-anchor="middle">n</text><text transform="translate(600.9 241.4) rotate(-16)" y="2.85" class="c3a2" text-anchor="middle">t</text><text transform="translate(606.2 240.3) rotate(-16)" y="3.4" class="c3a2" text-anchor="middle">3</text><text transform="translate(616 237) rotate(-16)" y="2.47" class="c3a2" text-anchor="middle">(</text><text transform="translate(621.9 235.7) rotate(-16)" y="3.4" class="c3a2" text-anchor="middle">9</text><text transform="translate(626.5 236.2) rotate(-16)" y="0.48" class="c3a2" text-anchor="middle">.</text><text transform="translate(631.1 233.1) rotate(-16)" y="3.4" class="c3a2" text-anchor="middle">9</text><text transform="translate(639 230.5) rotate(-16)" y="3.4" class="c3a2" text-anchor="middle">%</text><text transform="translate(644.3 228.5) rotate(-16)" y="2.47" class="c3a2" text-anchor="middle">)</text>
<rect x="640.5" y="125.5" width="42.7" height="40.9" fill="#fff" stroke="#e4e4ea" stroke-width="0.8"/>
<line x1="641" y1="140.5" x2="682.8" y2="140.5" stroke="#d0d0dc" stroke-width="0.8"/>
<text x="644.4" y="136.5" class="c3l">Legend</text>
<circle cx="646.8" cy="147.5" r="3.3" fill="url(#rb)"/>
<circle cx="646.8" cy="158.5" r="3.3" fill="url(#gb)"/>
<text x="654" y="150.7" class="c3l">head</text>
<text x="654" y="161.7" class="c3l">Leaf</text>
<text x="338.7" y="19.7" class="pl" style="font-size:17px">C.</text>
</svg>
</body></html>
